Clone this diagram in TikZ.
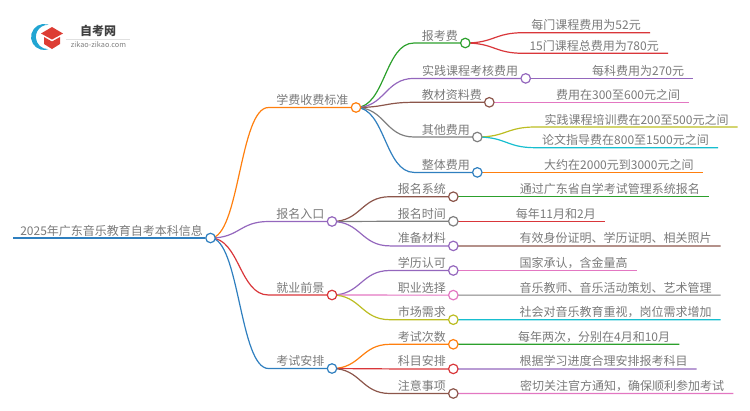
\documentclass[tikz,border=0pt]{standalone}
\usepackage{fontspec}
\setmainfont{Noto Sans CJK SC}
\usetikzlibrary{calc, backgrounds}

\definecolor{cBlue}{HTML}{2F7FBF}
\definecolor{cOrange}{HTML}{FF7F0E}
\definecolor{cGreen}{HTML}{2CA02C}
\definecolor{cRed}{HTML}{D9363A}
\definecolor{cPurple}{HTML}{9467BD}
\definecolor{cBrown}{HTML}{8C564B}
\definecolor{cPink}{HTML}{E377C2}
\definecolor{cGrey}{HTML}{7F7F7F}
\definecolor{cOlive}{HTML}{BCBD22}
\definecolor{cCyan}{HTML}{17BECF}
\definecolor{cText}{HTML}{7A7A7A}

\tikzset{
	dot/.style={circle, draw=#1, fill=white, line width=1.2pt, inner sep=0pt, minimum size=9.5pt},
	topic/.style={anchor=base east, xshift=-2pt, yshift=3pt, inner sep=0pt, text=cText, font=\fontsize{12}{14}\selectfont},
	leaf/.style={anchor=base east, xshift=-9pt, yshift=3pt, inner sep=0pt, text=cText, font=\fontsize{12}{14}\selectfont},
	link/.style={line width=1.2pt, to path={let \p1=(\tikztostart), \p2=(\tikztotarget) in
		(\p1) .. controls (\x1+29pt,\y1) and (\x1+29pt,\y2) .. (\x1+58pt,\y2) -- (\p2)}}
}

\begin{document}
\begin{tikzpicture}[x=1pt, y=-1pt, node distance=24.6pt]
	\useasboundingbox (0,0) rectangle (750,410);

	% logo
	\fill[cBlue!70!cyan] (47.4,24.4) arc (-75:-290:13) arc (88:272:12.2) -- cycle;
	\fill[cRed!90!orange] (41,33.5) -- (52,27) -- (63,33.5) -- (52,39.5) -- cycle;
	\fill[cRed!90!orange] (44,37) -- (52,41.5) -- (60,37) -- (60,44) -- (52,49) -- (44,44) -- cycle;
	\node[inner sep=0pt, text=black!75, font=\fontsize{12}{14}\bfseries\selectfont] (logo) at (98,31) {自考网};
	\draw[black!12, line width=0.6pt] (66,39) -- (130,39);
	\node[inner sep=0pt, text=black!50, font=\fontsize{7.3}{9}\selectfont] (site) at (98.5,45) {zikao-zikao.com};

	\node[dot=cBlue] (r) at (210.5,238) {};
	\node[dot=cOrange] (m1) at (356,107.5) {};
	\node[dot=cPurple] (m2) at (332,221.5) {};
	\node[dot=cRed, node distance=73.5pt] (m3) [below of=m2] {};
	\node[dot=cBlue, node distance=73.5pt] (m4) [below of=m3] {};

	\node[dot=cGreen] (s11) at (465.3,43) {};
	\node[dot=cPurple] (s12) at (525.7,78.4) {};
	\node[dot=cBrown] (s13) at (489.3,102.3) {};
	\node[dot=cGrey] (s14) at (477.3,137) {};
	\node[dot=cBlue, node distance=35.4pt] (s15) [below of=s14] {};

	\node[dot=cBrown] (s21) at (453.3,196.7) {};
	\node[dot=cGrey] (s22) [below of=s21] {};
	\node[dot=cPurple] (s23) [below of=s22] {};
	\node[dot=cPurple] (s31) [below of=s23] {};
	\node[dot=cPink] (s32) [below of=s31] {};
	\node[dot=cOlive] (s33) [below of=s32] {};
	\node[dot=cOrange] (s41) [below of=s33] {};
	\node[dot=cRed] (s42) [below of=s41] {};
	\node[dot=cBrown] (s43) [below of=s42] {};

	\coordinate (r0) at (13,238);
	\coordinate (e111) at (650,32.7);
	\coordinate (e112) at (668,53.3);
	\coordinate (e12) at (693.3,78.4);
	\coordinate (e13) at (689.3,102.3);
	\coordinate (e141) at (737.7,127);
	\coordinate (e142) at (718,147.7);
	\coordinate (e15) at (702.7,172.4);
	\coordinate (e21) at (709,196.7);
	\coordinate (e22) at (605,221.3);
	\coordinate (e23) at (720.7,245.9);
	\coordinate (e31) at (636.7,270.5);
	\coordinate (e32) at (720.7,295.1);
	\coordinate (e33) at (720.7,319.7);
	\coordinate (e41) at (679.3,344.3);
	\coordinate (e42) at (696.7,368.9);
	\coordinate (e43) at (733.3,393.5);

	\begin{scope}[on background layer]
		\draw[cBlue, line width=1.8pt] (r0) -- (r);
		\path[link, cOrange] (r) edge (m1);
		\path[link, cPurple] (r) edge (m2);
		\path[link, cRed] (r) edge (m3);
		\path[link, cBlue] (r) edge (m4);

		\path[link, cGreen] (m1) edge (s11);
		\path[link, cPurple] (m1) edge (s12);
		\path[link, cBrown] (m1) edge (s13);
		\path[link, cGrey] (m1) edge (s14);
		\path[link, cBlue] (m1) edge (s15);
		\path[link, cBrown] (m2) edge (s21);
		\path[link, cGrey] (m2) edge (s22);
		\path[link, cPurple] (m2) edge (s23);
		\path[link, cPurple] (m3) edge (s31);
		\path[link, cPink] (m3) edge (s32);
		\path[link, cOlive] (m3) edge (s33);
		\path[link, cOrange] (m4) edge (s41);
		\path[link, cRed] (m4) edge (s42);
		\path[link, cBrown] (m4) edge (s43);

		\path[link, cRed] (s11) edge (e111);
		\path[link, cRed] (s11) edge (e112);
		\path[link, cPurple] (s12) edge (e12);
		\path[link, cPink] (s13) edge (e13);
		\path[link, cOlive] (s14) edge (e141);
		\path[link, cCyan] (s14) edge (e142);
		\path[link, cOrange] (s15) edge (e15);
		\path[link, cGreen] (s21) edge (e21);
		\path[link, cRed] (s22) edge (e22);
		\path[link, cBrown] (s23) edge (e23);
		\path[link, cPink] (s31) edge (e31);
		\path[link, cGrey] (s32) edge (e32);
		\path[link, cCyan] (s33) edge (e33);
		\path[link, cGreen] (s41) edge (e41);
		\path[link, cPurple] (s42) edge (e42);
		\path[link, cPink] (s43) edge (e43);
	\end{scope}

	\node[topic] (tr) at (r.west) {2025年广东音乐教育自考本科信息};
	\node[topic] (t1) at (m1.west) {学费收费标准};
	\node[topic] (t2) at (m2.west) {报名入口};
	\node[topic] (t3) at (m3.west) {就业前景};
	\node[topic] (t4) at (m4.west) {考试安排};

	\node[topic] (t11) at (s11.west) {报考费};
	\node[topic] (t12) at (s12.west) {实践课程考核费用};
	\node[topic] (t13) at (s13.west) {教材资料费};
	\node[topic] (t14) at (s14.west) {其他费用};
	\node[topic] (t15) at (s15.west) {整体费用};
	\node[topic] (t21) at (s21.west) {报名系统};
	\node[topic] (t22) at (s22.west) {报名时间};
	\node[topic] (t23) at (s23.west) {准备材料};
	\node[topic] (t31) at (s31.west) {学历认可};
	\node[topic] (t32) at (s32.west) {职业选择};
	\node[topic] (t33) at (s33.west) {市场需求};
	\node[topic] (t41) at (s41.west) {考试次数};
	\node[topic] (t42) at (s42.west) {科目安排};
	\node[topic] (t43) at (s43.west) {注意事项};

	\node[leaf] (l111) at (e111) {每门课程费用为52元};
	\node[leaf] (l112) at (e112) {15门课程总费用为780元};
	\node[leaf] (l12) at (e12) {每科费用为270元};
	\node[leaf] (l13) at (e13) {费用在300至600元之间};
	\node[leaf] (l141) at (e141) {实践课程培训费在200至500元之间};
	\node[leaf] (l142) at (e142) {论文指导费在800至1500元之间};
	\node[leaf] (l15) at (e15) {大约在2000元到3000元之间};
	\node[leaf] (l21) at (e21) {通过广东省自学考试管理系统报名};
	\node[leaf] (l22) at (e22) {每年11月和2月};
	\node[leaf] (l23) at (e23) {有效身份证明、学历证明、相关照片};
	\node[leaf] (l31) at (e31) {国家承认，含金量高};
	\node[leaf] (l32) at (e32) {音乐教师、音乐活动策划、艺术管理};
	\node[leaf] (l33) at (e33) {社会对音乐教育重视，岗位需求增加};
	\node[leaf] (l41) at (e41) {每年两次，分别在4月和10月};
	\node[leaf] (l42) at (e42) {根据学习进度合理安排报考科目};
	\node[leaf] (l43) at (e43) {密切关注官方通知，确保顺利参加考试};
\end{tikzpicture}
\end{document}
